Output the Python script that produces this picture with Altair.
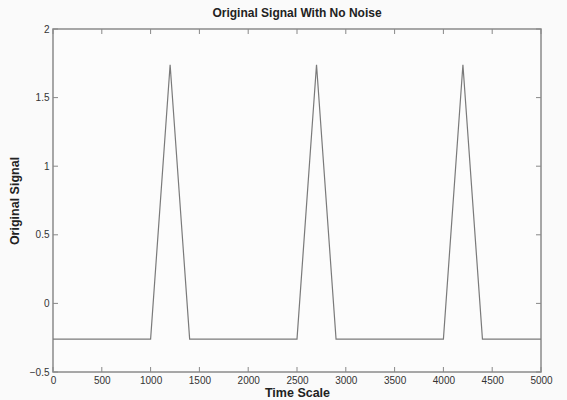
import altair as alt
import pandas as pd

# Signal vertices
time_points = [0, 1000, 1200, 1400, 2500, 2700, 2900, 4000, 4200, 4400, 5000]
signal_values = [-0.26, -0.26, 1.74, -0.26, -0.26, 1.74, -0.26, -0.26, 1.74, -0.26, -0.26]

x_ticks = [0, 500, 1000, 1500, 2000, 2500, 3000, 3500, 4000, 4500, 5000]
y_ticks = [-0.5, 0, 0.5, 1, 1.5, 2]

W, H = 488, 343
FONT = "Liberation Sans"
TICK = 5

df = pd.DataFrame({"t": time_points, "s": signal_values})
dx = pd.DataFrame({"t": x_ticks})
dy = pd.DataFrame({"s": y_ticks})

xs = alt.Scale(domain=[0, 5000], nice=False, zero=False)
ys = alt.Scale(domain=[-0.5, 2], nice=False, zero=False)

x_axis = alt.Axis(values=x_ticks, format="d", title="Time Scale", ticks=False, domain=False, grid=False,
                  labelPadding=3, labelFontSize=10, labelFont=FONT, labelColor="#333",
                  titleFont=FONT, titleFontSize=12.5, titleFontWeight="bold", titleColor="#222",
                  titlePadding=1, labelFlush=False)
y_axis = alt.Axis(values=y_ticks, format="~g", title="Original Signal", ticks=False, domain=False, grid=False,
                  labelPadding=4, labelFontSize=10, labelFont=FONT, labelColor="#333",
                  titleFont=FONT, titleFontSize=12.5, titleFontWeight="bold", titleColor="#222",
                  titlePadding=8, labelFlush=False)

line = alt.Chart(df).mark_line(color="#7a7a7a", strokeWidth=1.2).encode(
    x=alt.X("t:Q", scale=xs, axis=x_axis),
    y=alt.Y("s:Q", scale=ys, axis=y_axis),
)

tick_color = "#888"
bx = alt.Chart(dx).mark_rule(color=tick_color).encode(
    x=alt.X("t:Q", scale=xs), y=alt.value(H), y2=alt.value(H - TICK))
tx = alt.Chart(dx).mark_rule(color=tick_color).encode(
    x=alt.X("t:Q", scale=xs), y=alt.value(0), y2=alt.value(TICK))
ly = alt.Chart(dy).mark_rule(color=tick_color).encode(
    y=alt.Y("s:Q", scale=ys), x=alt.value(0), x2=alt.value(TICK))
ry = alt.Chart(dy).mark_rule(color=tick_color).encode(
    y=alt.Y("s:Q", scale=ys), x=alt.value(W), x2=alt.value(W - TICK))

chart = alt.layer(line, bx, tx, ly, ry).properties(
    width=W, height=H,
    title=alt.TitleParams("Original Signal With No Noise", font=FONT, fontSize=12,
                          fontWeight="bold", color="#222", offset=4),
    autosize=alt.AutoSizeParams(type="none"),
    padding={"left": 53, "top": 29, "right": 26, "bottom": 28},
    background="#fafafa",
).configure_view(stroke="#8a8a8a", strokeWidth=1.5, fill="#fcfcfc")

chart.save("out.html", embed_options={"renderer": "svg", "actions": False})
